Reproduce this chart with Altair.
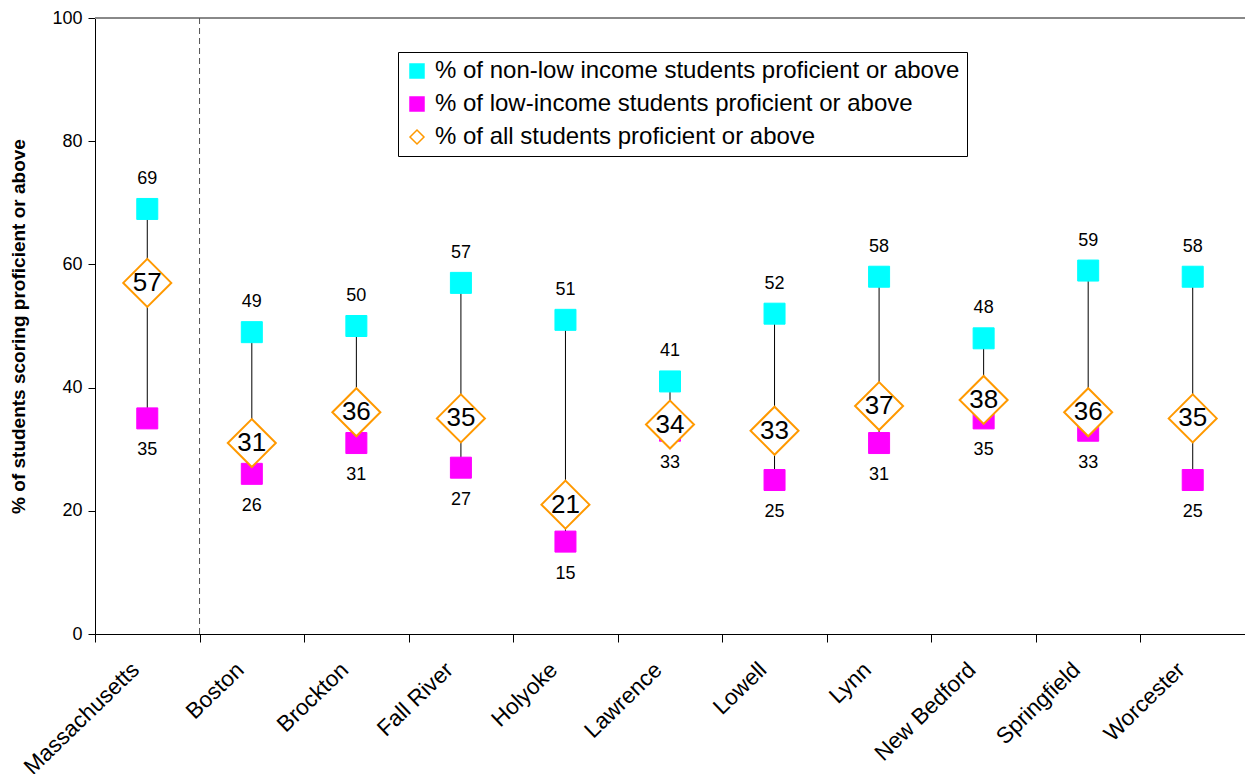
import altair as alt
import pandas as pd

categories = ["Massachusetts", "Boston", "Brockton", "Fall River", "Holyoke", "Lawrence",
              "Lowell", "Lynn", "New Bedford", "Springfield", "Worcester"]
nonlow = [69, 49, 50, 57, 51, 41, 52, 58, 48, 59, 58]
low = [35, 26, 31, 27, 15, 33, 25, 31, 35, 33, 25]
allstud = [57, 31, 36, 35, 21, 34, 33, 37, 38, 36, 35]

S_NON = "% of non-low income students proficient or above"
S_LOW = "% of low-income students proficient or above"
S_ALL = "% of all students proficient or above"
series_names = [S_NON, S_LOW, S_ALL]

FONT = "Liberation Sans"

wide = pd.DataFrame({"cat": categories, "nonlow": nonlow, "low": low, "all": allstud})
sq = pd.concat([
    pd.DataFrame({"cat": categories, "value": nonlow, "series": S_NON}),
    pd.DataFrame({"cat": categories, "value": low, "series": S_LOW}),
])
dm = pd.DataFrame({"cat": categories, "value": allstud, "series": S_ALL})

xscale = alt.Scale(type="band", domain=categories, paddingInner=0, paddingOuter=0)
X = alt.X("cat:N", scale=xscale, sort=categories,
          axis=alt.Axis(title=None, tickBand="extent", labelAngle=316, labelAlign="right",
                        labelBaseline="middle", labelPadding=24, labelOffset=-12,
                        labelFontSize=22.5, labelFont=FONT, labelColor="black",
                        domainColor="black", tickColor="black", tickSize=8, labelLimit=0))
yscale = alt.Scale(domain=[0, 100], nice=False)
Y = alt.Y("value:Q", scale=yscale,
          axis=alt.Axis(title="% of students scoring proficient or above", values=[0, 20, 40, 60, 80, 100],
                        grid=False, labelFontSize=18, labelFont=FONT, labelColor="black",
                        titleFont=FONT, titleFontSize=19, titleFontWeight="bold",
                        titleColor="black", titlePadding=23, domainColor="black",
                        tickColor="black", tickSize=7, labelPadding=6))

shape_s = alt.Scale(domain=series_names, range=["square", "square", "diamond"])
fill_s = alt.Scale(domain=series_names, range=["#00FFFF", "#FF00FF", "#FFFFFF"])
stroke_s = alt.Scale(domain=series_names, range=["#00FFFF", "#FF00FF", "#FF9900"])
leg = alt.Legend(title=None, orient="none", legendX=303, legendY=34, labelFontSize=24,
                 labelFont=FONT, labelColor="black", symbolSize=196, rowPadding=9,
                 padding=7, strokeColor="black", fillColor="white", labelLimit=0,
                 symbolStrokeWidth=1.5, labelOffset=6)

def enc(chart):
    return chart.encode(
        x=X, y=Y,
        shape=alt.Shape("series:N", scale=shape_s, legend=leg, sort=series_names),
        fill=alt.Fill("series:N", scale=fill_s, legend=leg, sort=series_names),
        stroke=alt.Stroke("series:N", scale=stroke_s, legend=leg, sort=series_names),
    )

top_rule = alt.Chart(wide).mark_rule(color="#888888", strokeWidth=1).encode(y=alt.datum(100))
sep = alt.Chart(pd.DataFrame({"cat": ["Boston"]})).mark_rule(
    color="#555555", strokeDash=[6, 4], strokeWidth=1).encode(
    x=alt.X("cat:N", scale=xscale, sort=categories, bandPosition=0),
    y=alt.datum(0), y2=alt.datum(100))
conn = alt.Chart(wide).mark_rule(color="black", strokeWidth=1).encode(
    x=X, y=alt.Y("low:Q", scale=yscale), y2="nonlow:Q")
squares = enc(alt.Chart(sq).mark_point(filled=True, size=441, opacity=1, strokeWidth=1))
diamonds = enc(alt.Chart(dm).mark_point(filled=True, size=2304, opacity=1, strokeWidth=2))

t_non = alt.Chart(wide).mark_text(dy=-30, fontSize=18, font=FONT, color="black").encode(
    x=X, y=alt.Y("nonlow:Q", scale=yscale), text="nonlow:Q")
t_low = alt.Chart(wide).mark_text(dy=32, fontSize=18, font=FONT, color="black").encode(
    x=X, y=alt.Y("low:Q", scale=yscale), text="low:Q")
t_all = alt.Chart(wide).mark_text(fontSize=26, font=FONT, color="black", baseline="middle").encode(
    x=X, y=alt.Y("all:Q", scale=yscale), text="all:Q")

chart = alt.layer(top_rule, sep, conn, squares, diamonds, t_non, t_low, t_all).properties(
    width=1150, height=616,
    autosize=alt.AutoSizeParams(type="none"),
    padding={"left": 87, "top": 10, "right": 0, "bottom": 140},
).configure_view(stroke=None).configure(background="white")

chart.save("out.html", embed_options={"renderer": "svg", "actions": False})
